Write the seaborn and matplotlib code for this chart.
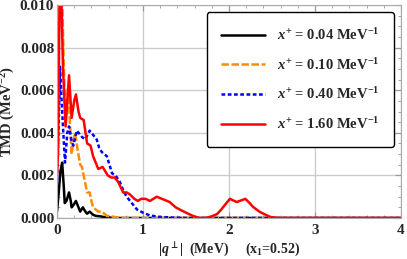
import numpy as np
import pandas as pd
import seaborn as sns
import matplotlib.pyplot as plt
from matplotlib.ticker import MultipleLocator

# curves (q in MeV, TMD in MeV^-2)
q_black = [0.0, 0.02, 0.04, 0.06, 0.08, 0.09, 0.11, 0.14, 0.16, 0.17, 0.19, 0.22, 0.25, 0.27, 0.30, 0.33,
           0.35, 0.38, 0.42, 0.45, 0.5, 0.55, 0.6, 0.7, 0.8, 4.0]
tmd_black = [0.0003, 0.0012, 0.0022, 0.0026, 0.0014, 0.0007, 0.0008, 0.0012, 0.0008, 0.0005, 0.0006, 0.0008,
             0.0005, 0.0003, 0.0005, 0.0003, 0.0002, 0.0003, 0.00015, 0.0001, 0.00008, 0.00004, 0.00002, 0.0, 0.0, 0.0]

q_orange = [0.0, 0.02, 0.04, 0.06, 0.08, 0.10, 0.13, 0.15, 0.17, 0.19, 0.21, 0.24, 0.27, 0.29, 0.32, 0.35,
            0.38, 0.40, 0.42, 0.45, 0.48, 0.52, 0.55, 0.58, 0.62, 0.7, 0.8, 4.0]
tmd_orange = [0.0055, 0.0085, 0.0105, 0.0105, 0.0070, 0.0045, 0.0062, 0.0045, 0.0030, 0.0036, 0.0040, 0.0032,
              0.0025, 0.0024, 0.0018, 0.0012, 0.0012, 0.0008, 0.0005, 0.0004, 0.0003, 0.0003, 0.0002, 0.0001,
              0.00008, 0.00003, 0.0, 0.0]

q_blue = [0.0, 0.02, 0.035, 0.06, 0.093, 0.12, 0.14, 0.17, 0.19, 0.23, 0.29, 0.33, 0.38, 0.42, 0.46, 0.49,
          0.52, 0.58, 0.61, 0.64, 0.68, 0.73, 0.77, 0.81, 0.87, 0.93, 1.0, 1.08, 1.2, 1.35, 1.5, 4.0]
tmd_blue = [0.0018, 0.0045, 0.0071, 0.0050, 0.0026, 0.0040, 0.0043, 0.0036, 0.0034, 0.0041, 0.0038, 0.0037,
            0.0041, 0.0039, 0.0037, 0.0033, 0.0031, 0.0029, 0.0025, 0.0021, 0.0020, 0.0017, 0.0013, 0.0010,
            0.0007, 0.0004, 0.00025, 0.00012, 0.00005, 0.00002, 0.0, 0.0]

q_red = [0.0, 0.012, 0.03, 0.05, 0.07, 0.10, 0.12, 0.14, 0.17, 0.20, 0.22, 0.25, 0.27, 0.31, 0.35, 0.39,
         0.42, 0.45, 0.48, 0.53, 0.56, 0.59, 0.63, 0.67, 0.71, 0.77, 0.81, 0.85, 0.9, 0.94, 0.98, 1.03, 1.08,
         1.16, 1.22, 1.31, 1.38, 1.45, 1.51, 1.58, 1.65, 1.73, 1.8, 1.86, 1.9, 1.95, 2.01, 2.09, 2.19, 2.24,
         2.28, 2.36, 2.48, 2.57, 4.0]
tmd_red = [0.0020, 0.0030, 0.0105, 0.0105, 0.0070, 0.0043, 0.0055, 0.0067, 0.0047, 0.0055, 0.0058, 0.0050,
           0.0047, 0.0046, 0.0035, 0.0034, 0.0029, 0.0026, 0.0023, 0.0024, 0.0022, 0.0020, 0.0019, 0.0019,
           0.0017, 0.0012, 0.0012, 0.0011, 0.0009, 0.0008, 0.0009, 0.0009, 0.0008, 0.0010, 0.0009, 0.00075,
           0.0005, 0.00035, 0.00023, 0.0001, 0.0, 0.0, 0.00008, 0.00018, 0.00035, 0.0006, 0.0009, 0.00075,
           0.0009, 0.0007, 0.00052, 0.00028, 0.00005, 0.0, 0.0]

labels = [r"$x^{+}$ = 0.04 MeV$^{-1}$", r"$x^{+}$ = 0.10 MeV$^{-1}$",
          r"$x^{+}$ = 0.40 MeV$^{-1}$", r"$x^{+}$ = 1.60 MeV$^{-1}$"]

sns.set_style("ticks")
plt.rcParams['font.family'] = ['Liberation Serif', 'DejaVu Serif']
plt.rcParams['font.weight'] = 'bold'
plt.rcParams['axes.labelweight'] = 'bold'
plt.rcParams['mathtext.fontset'] = 'custom'
plt.rcParams['mathtext.rm'] = 'Liberation Serif:bold'
plt.rcParams['mathtext.it'] = 'Liberation Serif:italic:bold'
plt.rcParams['mathtext.bf'] = 'Liberation Serif:bold'
plt.rcParams['mathtext.fallback'] = 'stix'

fig = plt.figure(figsize=(4.07, 2.59), dpi=100)
ax = fig.add_axes([57 / 407, 41 / 259, 344 / 407, 213 / 259])

series = [(q_black, tmd_black, 'black', (None, None)),
          (q_orange, tmd_orange, 'darkorange', (3, 1)),
          (q_blue, tmd_blue, 'blue', (1.5, 1)),
          (q_red, tmd_red, 'red', (None, None))]

for (q, t, c, d), lab in zip(series, labels):
    df = pd.DataFrame({'q': q, 'tmd': t})
    sns.lineplot(data=df, x='q', y='tmd', color=c, lw=1.8, ax=ax, label=lab)
    if d[0] is not None:
        ax.lines[-1].set_dashes(d)

ax.set_xlim(0, 4)
ax.set_ylim(0, 0.010)
ax.xaxis.set_major_locator(MultipleLocator(1))
ax.xaxis.set_minor_locator(MultipleLocator(0.2))
ax.yaxis.set_major_locator(MultipleLocator(0.002))
ax.yaxis.set_minor_locator(MultipleLocator(0.0005))
ax.yaxis.set_major_formatter(plt.FuncFormatter(lambda v, p: f"{v:.3f}"))
ax.grid(which='major', color='#cccccc', lw=1)
ax.tick_params(which='both', direction='in', color='#999999', top=True, right=True,
               labelsize=11, pad=2)
ax.tick_params(axis='x', which='both', pad=4)
ax.tick_params(which='major', length=4)
ax.tick_params(which='minor', length=2)
for lbl in ax.get_xticklabels() + ax.get_yticklabels():
    lbl.set_fontweight('bold')
for s in ax.spines.values():
    s.set_color('#aaaaaa')

ax.set_xlabel(r"$|q^{\bot}|$  (MeV)     (x$_1$=0.52)", fontsize=10, labelpad=3)
ax.set_ylabel(r"TMD (MeV$^{-2}$)", fontsize=10.5, labelpad=2)

leg = ax.legend(loc='upper right', fontsize=10.5, frameon=True, fancybox=True,
                handlelength=3.0, handletextpad=0.8, labelspacing=0.95, borderpad=1.0,
                borderaxespad=0.5)
leg.get_frame().set_edgecolor('black')
leg.get_frame().set_linewidth(1.0)
leg.get_frame().set_alpha(1)

fig.savefig('out.png', dpi=100)
